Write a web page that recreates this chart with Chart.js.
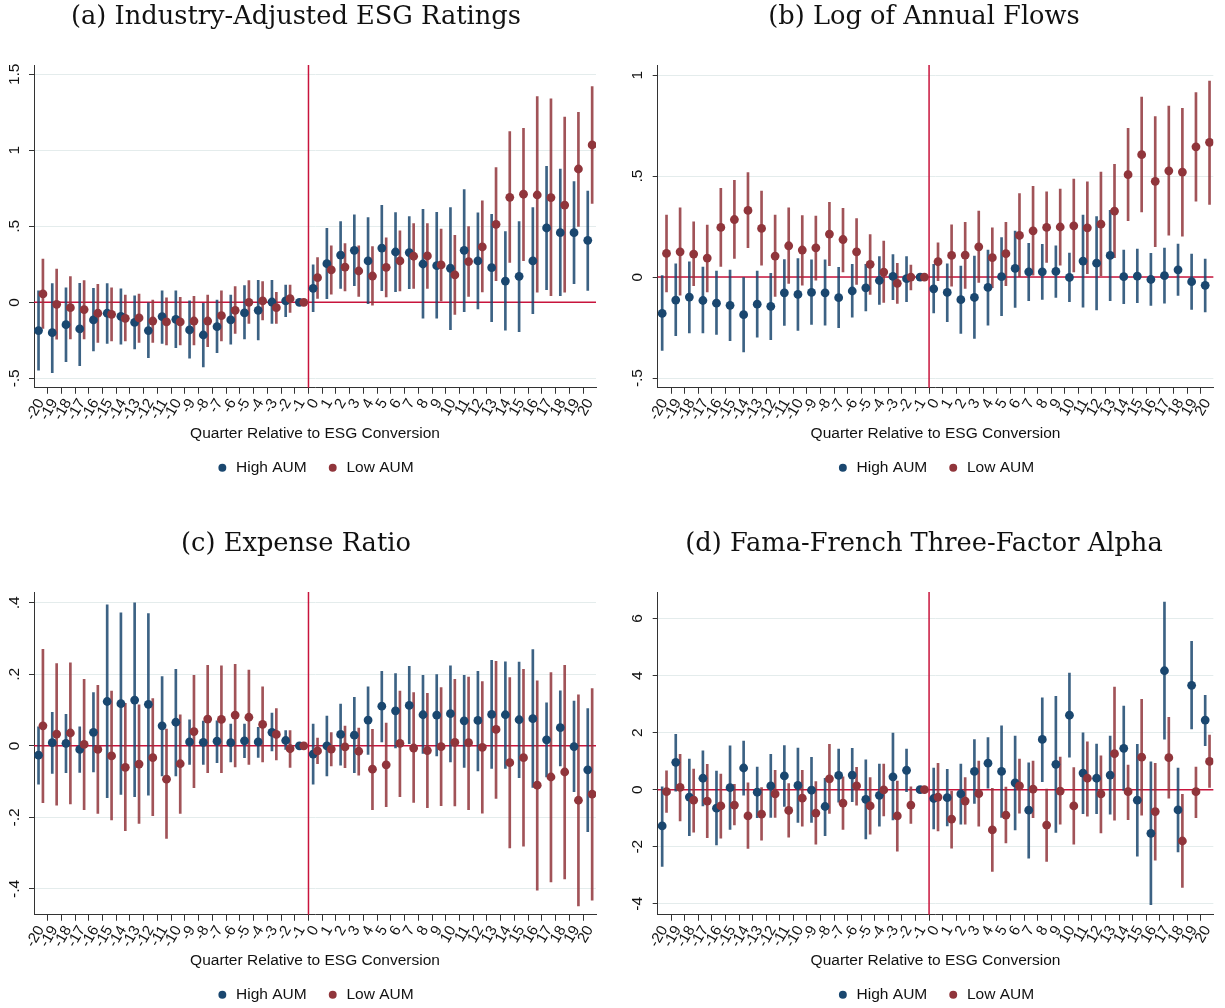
<!DOCTYPE html>
<html>
<head>
<meta charset="utf-8">
<script src="https://cdn.jsdelivr.net/npm/chart.js@4.4.1/dist/chart.umd.min.js"></script>
<style>
  html, body { margin: 0; padding: 0; background: #fff; width: 1225px; height: 1008px; overflow: hidden; }
  canvas { position: absolute; }
</style>
</head>
<body>
<canvas id="panelA" width="616" height="486" style="left:-4px;top:0px"></canvas>
<canvas id="panelB" width="613" height="486" style="left:612px;top:0px"></canvas>
<canvas id="panelC" width="616" height="486" style="left:-4px;top:527px"></canvas>
<canvas id="panelD" width="613" height="486" style="left:612px;top:527px"></canvas>
<script>
// Event-study quarters relative to the ESG conversion
const quarters = [-20,-19,-18,-17,-16,-15,-14,-13,-12,-11,-10,-9,-8,-7,-6,-5,-4,-3,-2,-1,0,1,2,3,4,5,6,7,8,9,10,11,12,13,14,15,16,17,18,19,20];

// (a) Industry-adjusted ESG ratings
const esgHighCoef  = [-0.186,-0.2,-0.147,-0.175,-0.116,-0.072,-0.092,-0.132,-0.186,-0.094,-0.112,-0.182,-0.215,-0.16,-0.116,-0.07,-0.053,0.002,0.009,0,0.092,0.254,0.311,0.342,0.272,0.357,0.331,0.327,0.252,0.241,0.224,0.342,0.272,0.228,0.14,0.171,0.272,0.489,0.458,0.458,0.408];
const esgHighLower = [-0.447,-0.463,-0.39,-0.417,-0.32,-0.27,-0.276,-0.307,-0.364,-0.27,-0.298,-0.368,-0.425,-0.331,-0.276,-0.241,-0.248,-0.138,-0.094,0,-0.061,0.024,0.092,0.11,-0.009,0.077,0.07,0.09,-0.105,-0.105,-0.18,-0.061,-0.044,-0.127,-0.184,-0.193,-0.075,0.083,0.044,0.123,0.079];
const esgHighUpper = [0.075,0.123,0.096,0.125,0.092,0.123,0.088,0.042,0.0,0.075,0.075,0.009,-0.007,0.015,0.048,0.11,0.145,0.145,0.114,0,0.246,0.487,0.531,0.575,0.557,0.638,0.59,0.564,0.612,0.592,0.623,0.741,0.588,0.579,0.465,0.531,0.623,0.895,0.877,0.794,0.732];
const esgLowCoef   = [0.055,-0.013,-0.035,-0.048,-0.072,-0.079,-0.105,-0.103,-0.123,-0.129,-0.129,-0.123,-0.123,-0.088,-0.053,0.0,0.009,-0.035,0.024,0,0.162,0.213,0.232,0.206,0.173,0.23,0.272,0.303,0.305,0.246,0.18,0.268,0.364,0.513,0.691,0.711,0.706,0.689,0.64,0.877,1.035];
const esgLowLower  = [-0.171,-0.243,-0.241,-0.241,-0.263,-0.254,-0.254,-0.263,-0.263,-0.281,-0.281,-0.281,-0.292,-0.254,-0.204,-0.138,-0.116,-0.138,-0.066,0,0.026,0.053,0.075,0.039,-0.018,0.035,0.075,0.092,0.092,0.009,-0.079,0.039,0.068,0.143,0.263,0.274,0.066,0.044,0.066,0.5,0.651];
const esgLowUpper  = [0.285,0.219,0.169,0.143,0.118,0.096,0.048,0.055,0.015,0.029,0.033,0.039,0.048,0.075,0.103,0.143,0.136,0.066,0.114,0,0.294,0.371,0.386,0.371,0.366,0.425,0.471,0.518,0.518,0.482,0.441,0.498,0.667,0.886,1.123,1.145,1.353,1.338,1.219,1.25,1.419];

// (b) Log of annual flows
const flowHighCoef  = [-0.18,-0.114,-0.099,-0.116,-0.129,-0.14,-0.186,-0.134,-0.145,-0.078,-0.086,-0.076,-0.078,-0.102,-0.069,-0.053,-0.017,0.003,-0.008,0,-0.058,-0.076,-0.112,-0.101,-0.051,0.002,0.043,0.026,0.026,0.028,-0.002,0.079,0.069,0.107,0.002,0.005,-0.012,0.007,0.036,-0.023,-0.041];
const flowHighLower = [-0.363,-0.29,-0.277,-0.277,-0.284,-0.315,-0.37,-0.297,-0.31,-0.239,-0.264,-0.234,-0.238,-0.251,-0.198,-0.168,-0.135,-0.112,-0.122,0,-0.178,-0.221,-0.279,-0.304,-0.238,-0.191,-0.15,-0.117,-0.111,-0.101,-0.122,-0.149,-0.163,-0.117,-0.132,-0.127,-0.14,-0.129,-0.091,-0.16,-0.172];
const flowHighUpper = [0.007,0.066,0.076,0.05,0.03,0.035,-0.003,0.03,0.018,0.087,0.092,0.086,0.086,0.048,0.063,0.063,0.102,0.112,0.102,0,0.063,0.066,0.054,0.104,0.134,0.195,0.228,0.167,0.162,0.155,0.119,0.307,0.3,0.33,0.134,0.139,0.117,0.144,0.163,0.114,0.089];
const flowLowCoef   = [0.117,0.125,0.114,0.094,0.246,0.285,0.33,0.241,0.104,0.155,0.134,0.145,0.213,0.186,0.125,0.063,0.025,-0.031,0.0,0,0.076,0.107,0.109,0.15,0.096,0.116,0.206,0.229,0.246,0.248,0.254,0.244,0.262,0.327,0.507,0.606,0.474,0.526,0.52,0.645,0.667];
const flowLowLower  = [-0.073,-0.089,-0.043,-0.073,0.053,0.092,0.145,0.059,-0.096,-0.031,-0.04,-0.015,0.056,0.026,-0.036,-0.086,-0.125,-0.13,-0.064,0,-0.018,-0.045,-0.056,-0.026,-0.053,-0.043,0.002,0.01,0.073,0.059,0.026,0.017,0.007,0.096,0.279,0.323,0.15,0.208,0.203,0.376,0.36];
const flowLowUpper  = [0.307,0.343,0.274,0.257,0.439,0.479,0.517,0.426,0.307,0.343,0.305,0.302,0.37,0.34,0.29,0.211,0.178,0.068,0.059,0,0.17,0.259,0.271,0.327,0.244,0.271,0.414,0.449,0.422,0.436,0.485,0.472,0.52,0.558,0.736,0.891,0.795,0.847,0.835,0.914,0.97];

// (c) Expense ratio
const expHighCoef  = [-0.026,0.009,0.007,-0.01,0.038,0.124,0.118,0.128,0.116,0.056,0.066,0.011,0.01,0.013,0.009,0.014,0.011,0.038,0.015,0,-0.023,0.0,0.032,0.03,0.072,0.111,0.098,0.113,0.087,0.086,0.09,0.07,0.071,0.088,0.087,0.073,0.076,0.017,0.051,-0.002,-0.067];
const expHighLower = [-0.107,-0.077,-0.075,-0.074,-0.073,-0.145,-0.136,-0.142,-0.138,-0.084,-0.084,-0.052,-0.052,-0.047,-0.045,-0.033,-0.032,-0.014,-0.01,0,-0.107,-0.084,-0.054,-0.075,-0.024,0.011,-0.006,0.006,-0.021,-0.028,-0.045,-0.06,-0.07,-0.063,-0.063,-0.089,-0.116,-0.087,-0.056,-0.128,-0.24];
const expHighUpper = [0.053,0.094,0.088,0.053,0.149,0.394,0.372,0.4,0.37,0.194,0.214,0.073,0.069,0.07,0.061,0.061,0.052,0.092,0.043,0,0.061,0.083,0.117,0.136,0.165,0.208,0.202,0.222,0.197,0.199,0.224,0.197,0.208,0.239,0.235,0.234,0.269,0.12,0.154,0.125,0.104];
const expLowCoef   = [0.056,0.033,0.036,0.004,-0.01,-0.028,-0.06,-0.051,-0.033,-0.093,-0.05,0.04,0.075,0.074,0.086,0.08,0.06,0.032,-0.008,0,-0.014,-0.009,-0.003,-0.015,-0.065,-0.053,0.007,-0.006,-0.013,-0.002,0.01,0.009,-0.004,0.046,-0.047,-0.033,-0.11,-0.087,-0.073,-0.152,-0.135];
const expLowLower  = [-0.159,-0.166,-0.162,-0.178,-0.189,-0.207,-0.237,-0.217,-0.195,-0.259,-0.189,-0.117,-0.075,-0.075,-0.059,-0.052,-0.045,-0.039,-0.06,0,-0.05,-0.056,-0.061,-0.082,-0.178,-0.17,-0.142,-0.158,-0.173,-0.167,-0.168,-0.178,-0.188,-0.147,-0.285,-0.28,-0.403,-0.38,-0.372,-0.447,-0.431];
const expLowUpper  = [0.27,0.23,0.232,0.186,0.169,0.153,0.119,0.115,0.132,0.047,0.087,0.197,0.225,0.224,0.228,0.212,0.165,0.104,0.043,0,0.022,0.037,0.055,0.05,0.046,0.064,0.153,0.149,0.147,0.163,0.186,0.192,0.18,0.236,0.191,0.214,0.182,0.205,0.225,0.143,0.16];

// (d) Fama-French three-factor alpha
const alphaHighCoef  = [-1.27,0.96,-0.26,0.4,-0.65,0.07,0.76,-0.09,0.13,0.48,0.15,-0.02,-0.59,0.5,0.51,-0.34,-0.2,0.45,0.68,0,-0.31,-0.28,-0.15,0.64,0.93,0.64,0.24,-0.72,1.76,0.89,2.61,0.58,0.4,0.51,1.45,-0.37,-1.53,4.17,-0.71,3.66,2.44];
const alphaHighLower = [-2.69,-0.05,-1.61,-0.57,-1.94,-1.39,-0.19,-0.98,-0.97,-0.59,-1.15,-1.15,-1.61,-0.44,-0.42,-1.73,-1.28,-1.06,-0.07,0,-1.38,-1.27,-1.21,-0.48,0.05,-0.97,-1.41,-2.4,0.28,-1.5,1.14,-0.84,-0.84,-0.86,-0.03,-2.33,-4.03,1.77,-2.18,2.13,1.54];
const alphaHighUpper = [0.1,1.94,1.07,1.36,0.65,1.54,1.7,0.79,1.24,1.55,1.46,1.13,0.4,1.42,1.45,1.05,0.9,1.98,1.42,0,0.76,0.71,0.9,1.76,1.83,2.24,1.88,0.94,3.22,3.27,4.09,1.99,1.6,1.88,2.93,1.59,0.98,6.58,0.76,5.2,3.31];
const alphaLowCoef   = [-0.07,0.08,-0.37,-0.4,-0.57,-0.54,-0.92,-0.86,-0.15,-0.73,-0.3,-0.82,0.38,-0.47,0.13,-0.57,-0.01,-0.92,-0.54,0,-0.26,-1.03,-0.4,-0.14,-1.41,-0.89,0.13,0.02,-1.24,-0.05,-0.57,0.4,-0.15,1.26,-0.07,1.14,-0.77,1.12,-1.8,-0.07,0.99];
const alphaLowLower  = [-0.8,-1.1,-1.49,-1.68,-1.7,-1.24,-2.06,-1.77,-0.97,-1.67,-1.28,-1.91,-0.83,-1.39,-0.54,-1.56,-0.92,-2.16,-1.18,0,-1.45,-2.05,-1.21,-1.28,-2.87,-1.87,-0.82,-0.98,-2.52,-1.21,-1.91,-0.93,-1.52,-1.07,-1.05,-0.89,-2.47,-0.3,-3.43,-0.98,0.08];
const alphaLowUpper  = [0.66,1.24,0.72,0.89,0.55,0.19,0.24,0.07,0.68,0.21,0.68,0.28,1.59,0.45,0.78,0.42,0.9,0.3,0.1,0,0.92,-0.05,0.42,1.0,0.05,0.09,1.07,1.0,0.02,1.14,0.77,1.68,1.19,3.6,0.86,3.17,0.92,2.54,-0.16,0.79,1.91];

// Y-axis ticks and their printed labels, per panel
const esgTicks = [-0.5, 0, 0.5, 1, 1.5];
const esgTickLabels = ['-.5', '0', '.5', '1', '1.5'];
const flowTicks = [-0.5, 0, 0.5, 1];
const flowTickLabels = ['-.5', '0', '.5', '1'];
const expTicks = [-0.4, -0.2, 0, 0.2, 0.4];
const expTickLabels = ['-.4', '-.2', '0', '.2', '.4'];
const alphaTicks = [-4, -2, 0, 2, 4, 6];
const alphaTickLabels = ['-4', '-2', '0', '2', '4', '6'];

const seriesNames = ['High AUM', 'Low AUM'];
const xAxisTitle = 'Quarter Relative to ESG Conversion';
const conversionBoundary = -0.5;   // vertical marker between quarter -1 and 0

const NAVY = '#1a476f';
const MAROON = '#90353b';
const NAVY_BAR = 'rgba(26,71,111,0.85)';
const MAROON_BAR = 'rgba(144,53,59,0.85)';
const REF_RED = '#c8143c';
const INK = '#111111';
const SHIFT = 0.16;  // horizontal dodge of the two series around each quarter

Chart.defaults.font.family = '"Liberation Sans", Arial, sans-serif';
Chart.defaults.color = INK;

// Reference lines at y = 0 and at the conversion boundary
const refLines = {
  id: 'refLines',
  beforeDatasetsDraw(chart, args, opts) {
    const {ctx, chartArea: a, scales: {x, y}} = chart;
    ctx.save();
    ctx.strokeStyle = opts.color;
    ctx.lineWidth = opts.width;
    const py = y.getPixelForValue(opts.yValue);
    ctx.beginPath(); ctx.moveTo(a.left, py); ctx.lineTo(a.right, py); ctx.stroke();
    const px = x.getPixelForValue(opts.xValue);
    ctx.beginPath(); ctx.moveTo(px, a.top); ctx.lineTo(px, a.bottom); ctx.stroke();
    ctx.restore();
  }
};

// Vertical (rotated) y tick labels
const yTickText = {
  id: 'yTickText',
  afterDraw(chart, args, opts) {
    const {ctx, chartArea: a, scales: {y}} = chart;
    ctx.save();
    ctx.font = opts.size + 'px "Liberation Sans", Arial, sans-serif';
    ctx.fillStyle = INK;
    ctx.textAlign = 'center';
    ctx.textBaseline = 'middle';
    opts.values.forEach((v, i) => {
      ctx.save();
      ctx.translate(a.left - opts.offset, y.getPixelForValue(v));
      ctx.rotate(-Math.PI / 2);
      ctx.fillText(opts.labels[i], 0, 0);
      ctx.restore();
    });
    ctx.restore();
  }
};

function makePanel(id, p) {
  const pts = (vals, shift) => quarters.map((q, i) => ({x: q + shift, y: vals[i]}));
  const bars = (lo, hi, shift) => quarters.map((q, i) => ({x: q + shift, y: [lo[i], hi[i]]}));
  return new Chart(document.getElementById(id), {
    type: 'line',
    data: {
      datasets: [
        {label: seriesNames[0], data: pts(p.highCoef, -SHIFT), showLine: false, order: 1,
         pointRadius: 4.4, pointHoverRadius: 4.4, pointBorderWidth: 0, pointStyle: 'circle',
         backgroundColor: NAVY, borderColor: NAVY, pointBackgroundColor: NAVY},
        {label: seriesNames[1], data: pts(p.lowCoef, SHIFT), showLine: false, order: 0,
         pointRadius: 4.4, pointHoverRadius: 4.4, pointBorderWidth: 0, pointStyle: 'circle',
         backgroundColor: MAROON, borderColor: MAROON, pointBackgroundColor: MAROON},
        {type: 'bar', label: seriesNames[0] + ' CI', data: bars(p.highLower, p.highUpper, -SHIFT),
         barThickness: 2, grouped: false, borderWidth: 0, backgroundColor: NAVY_BAR, order: 3},
        {type: 'bar', label: seriesNames[1] + ' CI', data: bars(p.lowLower, p.lowUpper, SHIFT),
         barThickness: 2, grouped: false, borderWidth: 0, backgroundColor: MAROON_BAR, order: 2}
      ]
    },
    options: {
      responsive: false,
      animation: false,
      events: [],
      layout: {padding: {left: p.padLeft, right: p.padRight, top: 0, bottom: 0.5}},
      plugins: {
        title: {display: true, text: p.title, color: INK,
                font: {family: '"DejaVu Serif", serif', size: 25.7, weight: 'normal', lineHeight: 1.32},
                padding: {top: 0, bottom: 31.1}},
        legend: {display: true, position: 'bottom', fullSize: false,
                 labels: {usePointStyle: true, boxWidth: 12, boxHeight: 5.6, padding: 20,
                          font: {size: 15.5}, color: INK,
                          filter: item => item.datasetIndex < 2,
                          sort: (a, b) => a.datasetIndex - b.datasetIndex}},
        tooltip: {enabled: false},
        refLines: {xValue: conversionBoundary, yValue: 0, color: REF_RED, width: 1.5},
        yTickText: {values: p.yTicks, labels: p.yLabels, offset: 19.5, size: 15.5}
      },
      scales: {
        x: {
          type: 'linear', min: -20.49, max: 20.44, offset: false, bounds: 'data',
          afterBuildTicks: s => { s.ticks = quarters.map(v => ({value: v})); },
          afterFit: s => { s.height = 52.25; },
          ticks: {autoSkip: false, minRotation: 60, maxRotation: 60, padding: 2,
                  font: {size: 15}, color: INK, callback: v => String(v)},
          grid: {drawOnChartArea: false, drawTicks: true, tickLength: 6, tickColor: '#333', tickWidth: 1},
          border: {display: true, color: '#333', width: 1},
          title: {display: true, text: xAxisTitle, color: INK,
                  font: {size: 15.5, lineHeight: 0.86}, padding: 0}
        },
        y: {
          type: 'linear', min: p.yMin, max: p.yMax, bounds: 'data',
          afterBuildTicks: s => { s.ticks = p.yTicks.map(v => ({value: v})); },
          afterFit: s => { s.width = p.yWidth; },
          ticks: {display: false},
          grid: {color: '#e4ecec', lineWidth: 1, drawTicks: true, tickLength: 5, tickColor: '#333', tickWidth: 1},
          border: {display: true, color: '#333', width: 1}
        }
      }
    },
    plugins: [refLines, yTickText]
  });
}

makePanel('panelA', {
  title: '(a) Industry-Adjusted ESG Ratings',
  highCoef: esgHighCoef, highLower: esgHighLower, highUpper: esgHighUpper,
  lowCoef: esgLowCoef, lowLower: esgLowLower, lowUpper: esgLowUpper,
  yTicks: esgTicks, yLabels: esgTickLabels, yMin: -0.562, yMax: 1.561,
  padLeft: 0, padRight: 16, yWidth: 38
});
makePanel('panelB', {
  title: '(b) Log of Annual Flows',
  highCoef: flowHighCoef, highLower: flowHighLower, highUpper: flowHighUpper,
  lowCoef: flowLowCoef, lowLower: flowLowLower, lowUpper: flowLowUpper,
  yTicks: flowTicks, yLabels: flowTickLabels, yMin: -0.548, yMax: 1.05,
  padLeft: 15, padRight: 4, yWidth: 30.7
});
makePanel('panelC', {
  title: '(c) Expense Ratio',
  highCoef: expHighCoef, highLower: expHighLower, highUpper: expHighUpper,
  lowCoef: expLowCoef, lowLower: expLowLower, lowUpper: expLowUpper,
  yTicks: expTicks, yLabels: expTickLabels, yMin: -0.472, yMax: 0.43,
  padLeft: 0, padRight: 16, yWidth: 38
});
makePanel('panelD', {
  title: '(d) Fama-French Three-Factor Alpha',
  highCoef: alphaHighCoef, highLower: alphaHighLower, highUpper: alphaHighUpper,
  lowCoef: alphaLowCoef, lowLower: alphaLowLower, lowUpper: alphaLowUpper,
  yTicks: alphaTicks, yLabels: alphaTickLabels, yMin: -4.386, yMax: 6.93,
  padLeft: 15, padRight: 4, yWidth: 30.7
});
</script>
</body>
</html>
